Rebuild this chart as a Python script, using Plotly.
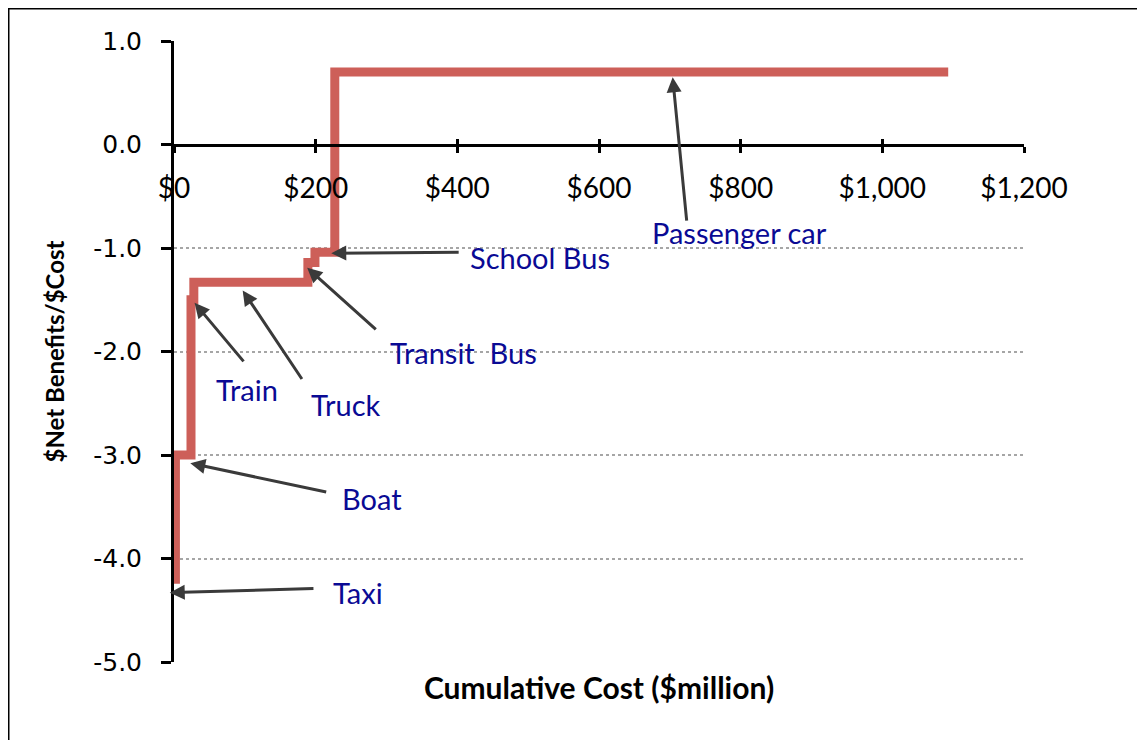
import plotly.graph_objects as go

# ---------------- data ----------------
modes = ["Taxi", "Boat", "Train", "Truck", "Transit Bus", "School Bus", "Passenger car"]
costs = [2, 22, 4, 161, 10, 28, 866]            # $million per mode
ratios = [-4.2, -3.0, -1.5, -1.33, -1.14, -1.04, 0.7]  # $Net Benefits / $Cost

x_ticks = [0, 200, 400, 600, 800, 1000, 1200]
y_ticks = [1.0, 0.0, -1.0, -2.0, -3.0, -4.0, -5.0]

# annotation placement (label centre, arrow tip, arrow tail) in data units
label_pos = {
    "Passenger car": (799, -0.85),
    "School Bus": (517, -1.09),
    "Transit Bus": (408, -2.01),
    "Truck": (243, -2.51),
    "Train": (103, -2.37),
    "Boat": (280, -3.42),
    "Taxi": (260, -4.33),
}
arrow_tip = {
    "Passenger car": (704, 0.65),
    "School Bus": (222, -1.05),
    "Transit Bus": (188, -1.19),
    "Truck": (97, -1.41),
    "Train": (29, -1.53),
    "Boat": (23, -3.08),
    "Taxi": (-6, -4.33),
}
arrow_tail = {
    "Passenger car": (724, -0.75),
    "School Bus": (404, -1.04),
    "Transit Bus": (287, -1.80),
    "Truck": (182, -2.28),
    "Train": (100, -2.11),
    "Boat": (217, -3.36),
    "Taxi": (199, -4.29),
}
label_text = {"Transit Bus": "Transit&nbsp; Bus"}

# ---------------- build step line ----------------
cum = [0]
for c in costs:
    cum.append(cum[-1] + c)
step_x = cum
step_y = ratios + [ratios[-1]]

X_RANGE = [0, 1200]
Y_RANGE = [-5, 1]
W, H = 1137, 732            # page body adds an 8px margin
ML, MR, MT, MB = 166, 121, 33, 78
PW, PH = W - ML - MR, H - MT - MB

LINE_RED = "#CD5F59"
LABEL_BLUE = "#0A0A94"
ARROW = "#3A3A3A"

fig = go.Figure()
fig.add_trace(go.Scatter(
    x=step_x, y=step_y, mode="lines", line=dict(color=LINE_RED, width=9, shape="hv"),
    hoverinfo="skip", showlegend=False, xaxis="x", yaxis="y",
))
# empty traces so the overlaid zero-crossing axes are drawn
for ax_id in ("x2", "x3"):
    fig.add_trace(go.Scatter(x=[], y=[], mode="lines", xaxis=ax_id, yaxis="y",
                             showlegend=False, hoverinfo="skip"))

annotations = []
for m in modes:
    tx, ty = arrow_tip[m]
    ax, ay = arrow_tail[m]
    annotations.append(dict(
        x=tx, y=ty, xref="x", yref="y", ax=ax, ay=ay, axref="x", ayref="y",
        text="", showarrow=True, arrowhead=2, arrowsize=1.0, arrowwidth=3,
        arrowcolor=ARROW, standoff=0, startstandoff=0,
    ))
    lx, ly = label_pos[m]
    annotations.append(dict(
        x=lx, y=ly, xref="x", yref="y", text=label_text.get(m, m), showarrow=False,
        font=dict(family="Lato", size=29, color=LABEL_BLUE), xanchor="center", yanchor="middle",
    ))

zero_pos = (0 - Y_RANGE[0]) / (Y_RANGE[1] - Y_RANGE[0])
tick_font_x = dict(family="Lato", size=28, color="black")

fig.update_layout(
    width=W, height=H,
    margin=dict(l=ML, r=MR, t=MT, b=MB, autoexpand=False),
    paper_bgcolor="white", plot_bgcolor="white",
    showlegend=False,
    xaxis=dict(
        range=X_RANGE, anchor="y", showline=False, showticklabels=False, ticks="",
        showgrid=False, zeroline=False, fixedrange=True,
        title=dict(text="<b>Cumulative Cost ($million)</b>",
                   font=dict(family="Lato", size=30, color="black"), standoff=15),
    ),
    xaxis2=dict(
        range=X_RANGE, overlaying="x", anchor="free", position=zero_pos,
        showline=True, linecolor="black", linewidth=3,
        ticks="outside", ticklen=6, tickwidth=3, tickcolor="black",
        tickvals=x_ticks, ticktext=["${:,}".format(v) for v in x_ticks],
        tickfont=tick_font_x, ticklabelstandoff=12,
        showgrid=False, zeroline=False, fixedrange=True,
    ),
    xaxis3=dict(
        range=X_RANGE, overlaying="x", anchor="free", position=zero_pos,
        showline=False, ticks="inside", ticklen=6, tickwidth=3, tickcolor="black",
        tickvals=x_ticks, showticklabels=False, showgrid=False, zeroline=False,
        fixedrange=True,
    ),
    yaxis=dict(
        range=Y_RANGE, anchor="x", showline=True, linecolor="black", linewidth=3,
        ticks="outside", ticklen=10, tickwidth=3, tickcolor="black",
        tickvals=y_ticks, ticktext=["{:.1f}".format(v) for v in y_ticks],
        tickfont=dict(family="DejaVu Sans", size=25, color="black"), ticklabelstandoff=14,
        showgrid=True, gridcolor="#A6A6A6", griddash="dot", gridwidth=1.5,
        zeroline=False, fixedrange=True,
        title=dict(text="<b>$Net Benefits/$Cost</b>",
                   font=dict(family="Lato", size=24, color="black"), standoff=22),
    ),
    annotations=annotations,
    shapes=[dict(
        type="rect", xref="paper", yref="paper",
        x0=(0 - ML) / PW, x1=(W + 20 - ML) / PW,
        y0=(H - MB - (H + 20)) / PH, y1=(H - MB - 0) / PH,
        line=dict(color="black", width=3), fillcolor="rgba(0,0,0,0)", layer="below",
    )],
)

fig.write_html("out.html")
